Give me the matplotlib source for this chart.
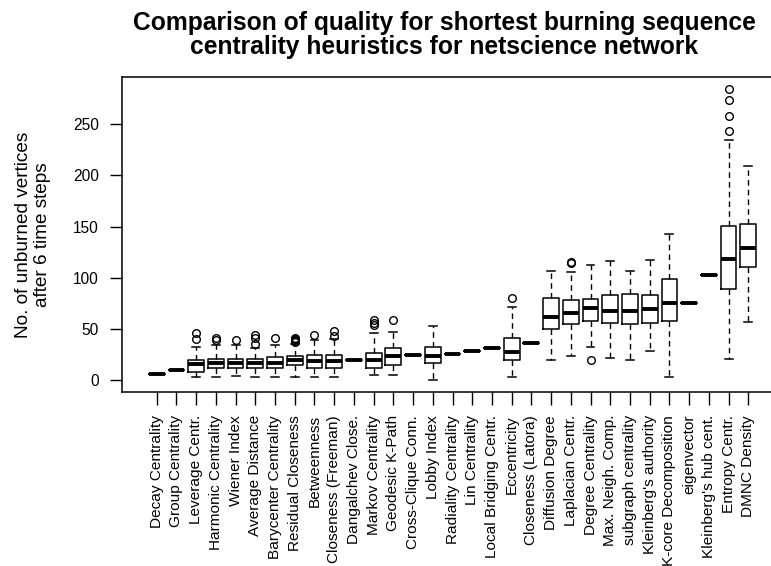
import matplotlib
matplotlib.use("Agg")
import matplotlib.pyplot as plt

plt.rcParams['font.family'] = ['Liberation Sans', 'DejaVu Sans']

# heuristics, in plotting order
names = [
    "Decay Centrality", "Group Centrality", "Leverage Centr.", "Harmonic Centrality",
    "Wiener Index", "Average Distance", "Barycenter Centrality", "Residual Closeness",
    "Betweenness", "Closeness (Freeman)", "Dangalchev Close.", "Markov Centrality",
    "Geodesic K-Path", "Cross-Clique Conn.", "Lobby Index", "Radiality Centrality",
    "Lin Centrality", "Local Bridging Centr.", "Eccentricity", "Closeness (Latora)",
    "Diffusion Degree", "Laplacian Centr.", "Degree Centrality", "Max. Neigh. Comp.",
    "subgraph centrality", "Kleinberg's authority", "K-core Decomposition", "eigenvector",
    "Kleinberg's hub cent.", "Entropy Centr.", "DMNC Density",
]

# five-number summaries of unburned vertices per heuristic
q1 = [6, 9.5, 8, 12, 12, 12, 11.5, 14.5, 12, 12, 20, 12, 14.5, 24.5, 16.5, 25.5,
      28, 31.5, 19.5, 36.5, 50, 55, 57.5, 56, 55, 56, 57.5, 75.5, 102.5, 89, 110]
med = [6, 9.5, 16, 16.5, 16.5, 16.5, 16.5, 19.5, 19, 19, 20, 20, 23, 24.5, 23.5, 25.5,
       28, 31.5, 27, 36.5, 62, 66, 70.5, 67, 67, 69.5, 75.5, 75.5, 102.5, 118.5, 129.5]
q3 = [6, 9.5, 20, 21, 21, 21, 22.5, 23.5, 24.5, 24.5, 20, 26.5, 31.5, 24.5, 32.5, 25.5,
      28, 31.5, 41, 36.5, 80, 78, 79.5, 83.5, 84.5, 83.5, 98.5, 75.5, 102.5, 150.5, 152.5]
lo = [6, 9.5, 2.5, 2.5, 3.5, 2.5, 2.5, 2.5, 2.5, 2.5, 20, 4.5, 4.5, 24.5, 0, 25.5,
      28, 31.5, 2.5, 36.5, 20, 23.5, 32.5, 22, 20, 28.5, 2.5, 75.5, 102.5, 20.5, 56.5]
hi = [6, 9.5, 32.5, 34, 34, 31, 34, 35, 39, 40, 20, 45.5, 47, 24.5, 53, 25.5,
      28, 31.5, 71.5, 36.5, 107, 105.5, 112.5, 116.5, 107, 117.5, 142.5, 75.5, 102.5, 234.5, 209]
outliers = [
    [], [], [40, 45.5], [39, 41.5], [39], [35, 41.5, 44.5], [41], [37, 38, 39, 40, 41],
    [44.5], [43.5, 48], [], [54, 56, 58.5], [58.5], [], [], [], [], [], [80], [],
    [], [114, 115], [20], [], [], [], [], [], [], [243.5, 258.5, 273.5, 284.5], [],
]

stats = []
for i in range(len(names)):
    stats.append(dict(q1=q1[i], med=med[i], q3=q3[i], whislo=lo[i], whishi=hi[i],
                      fliers=outliers[i], label=names[i]))

fig = plt.figure(figsize=(7.71, 5.66), dpi=100)
ax = fig.add_axes([122.4 / 771, 1 - 392 / 566, 660.2 / 771, 315 / 566])

ax.bxp(stats, positions=range(1, len(names) + 1), widths=0.8, capwidths=0.4,
       boxprops=dict(color='black', linewidth=1.1),
       medianprops=dict(color='black', linewidth=2.8, solid_capstyle='butt'),
       whiskerprops=dict(color='black', linewidth=1.0, linestyle=(0, (4, 3))),
       capprops=dict(color='black', linewidth=1.1),
       flierprops=dict(marker='o', markerfacecolor='none', markeredgecolor='black',
                       markersize=5.5, markeredgewidth=1.0))

ax.set_xlim(-0.74, 32.74)
ax.set_ylim(-11.7, 296.2)
ax.set_yticks([0, 50, 100, 150, 200, 250])
ax.set_xticks(range(1, len(names) + 1))
ax.set_xticklabels(names, rotation=90, fontsize=11.1)
ax.tick_params(axis='x', length=9, width=1.0, pad=7.5)
ax.tick_params(axis='y', length=9, width=1.0, pad=8, labelsize=11.2)
for s in ax.spines.values():
    s.set_linewidth(1.1)

fig.text(444 / 771, 1 - 11 / 566, "Comparison of quality for shortest burning sequence\n"
         "centrality heuristics for netscience network",
         ha='center', va='top', fontsize=17.7, fontweight='bold', linespacing=1.02)
fig.text(33 / 771, 1 - 235 / 566, "No. of unburned vertices\nafter 6 time steps",
         rotation=90, ha='center', va='center', fontsize=13.7, linespacing=1.15)

fig.savefig("out.png", dpi=100)
